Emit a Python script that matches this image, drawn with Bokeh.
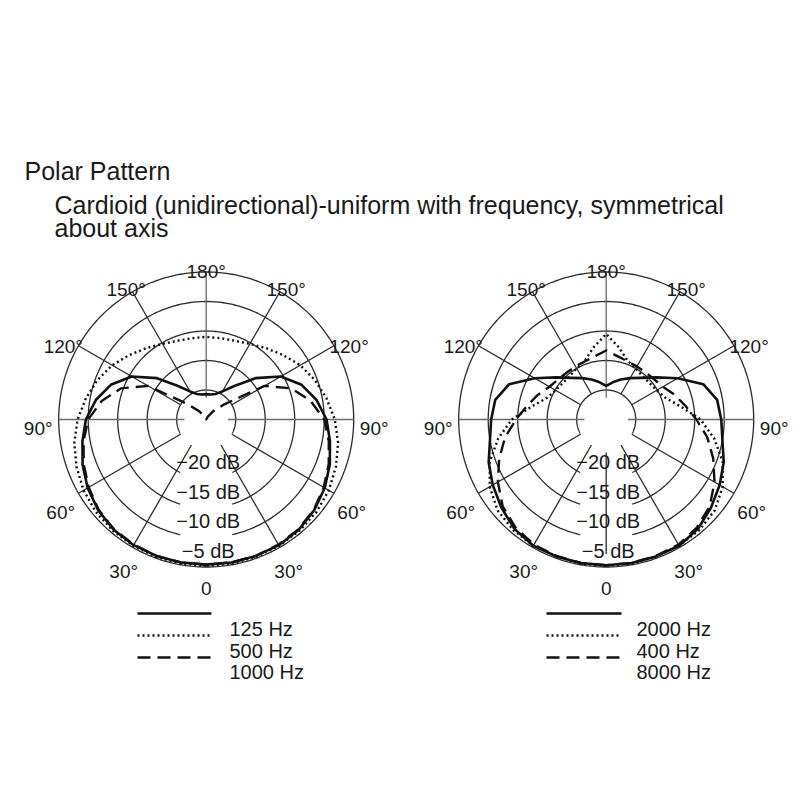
import numpy as np
from bokeh.plotting import figure
from bokeh.models import Range1d
from bokeh.embed import file_html
from bokeh.resources import INLINE
from bokeh.core.properties import value

# ---------------- data ----------------
ANGLES = [0, 10, 20, 30, 40, 50, 60, 70, 80, 90, 100, 110, 120, 130, 140, 150, 160, 170, 180]

# left chart (dB)
LEFT_125 = [-0.4, -0.4, -0.4, -0.4, -0.6, -1.1, -1.8, -2.7, -3.7, -4.6, -6.0, -7.8, -10.4, -14.1, -17.6, -19.5, -20.4, -20.7, -20.7]
LEFT_500 = [-0.2, -0.2, -0.2, -0.3, -0.4, -0.6, -1.0, -1.6, -2.3, -3.2, -4.3, -5.4, -6.6, -8.0, -9.2, -10.2, -10.8, -11.0, -11.0]
LEFT_1000 = [-0.4, -0.4, -0.4, -0.5, -0.7, -1.2, -2.0, -2.9, -3.9, -5.0, -7.0, -9.6, -13.6, -21.0, -23.2, -24.5, -25.0, -25.0, -25.0]

# right chart (dB)
RIGHT_2000 = [-0.3, -0.3, -0.3, -0.3, -0.8, -1.8, -2.8, -3.8, -5.0, -5.5, -5.9, -7.5, -11.0, -13.9, -15.8, -16.9, -17.8, -18.6, -19.3]
RIGHT_400 = [-0.2, -0.2, -0.3, -0.3, -0.5, -1.0, -2.2, -4.0, -6.4, -9.0, -12.2, -14.3, -15.1, -15.4, -15.4, -15.0, -14.4, -12.6, -10.5]
RIGHT_8000 = [-0.3, -0.3, -0.4, -0.5, -1.1, -2.1, -3.8, -5.7, -7.6, -9.7, -11.4, -12.7, -13.9, -14.4, -14.6, -14.6, -14.5, -14.1, -13.3]

RING_DB = [-5, -10, -15, -20]
RING_LABELS = ["\u22125 dB", "\u221210 dB", "\u221215 dB", "\u221220 dB"]
GRID_ANGLES = [30, 60, 90, 120, 150, 180]
TICK_ANGLES = [0, 30, 60, 90, 120, 150, 180]
TICK_LABELS = ["0", "30\u00b0", "60\u00b0", "90\u00b0", "120\u00b0", "150\u00b0", "180\u00b0"]
LEFT_NAMES = ["125 Hz", "500 Hz", "1000 Hz"]
RIGHT_NAMES = ["2000 Hz", "400 Hz", "8000 Hz"]
TITLE = "Polar Pattern"
SUBTITLE = ["Cardioid (unidirectional)-uniform with frequency, symmetrical", "about axis"]

# ---------------- layout / style ----------------
DB_MIN = -25.0
PXDB = 5.9          # pixels per dB
CY = 420.0
CENTERS = [206.7, 606.7]
FONT = value("Liberation Sans")
TXT = "#1a1a1a"
GRID = "#2a2a2a"
GRID_LIGHT = "#6a6a6a"
GAP = 26.0          # half width of the gap in the lower rings (label area)
LABEL_R = {0: 160, 30: 165, 60: 168, 90: 168, 120: 165, 150: 160, 180: 157}
LABEL_DY = 9

STYLES = [dict(line_dash="solid", line_width=2.6),
          dict(line_dash="2 3", line_width=2.4),
          dict(line_dash="13 7", line_width=2.4)]

p = figure(width=792, height=784, x_range=Range1d(1, 793), y_range=Range1d(785, 1),
           output_backend="svg", toolbar_location=None, min_border=0,
           x_axis_type=None, y_axis_type=None)
p.outline_line_color = None
p.background_fill_color = "white"
p.border_fill_color = "white"


def rad(db):
    return max(0.0, (db - DB_MIN) * PXDB)


def curve_xy(cx, values):
    th = np.radians(np.array(ANGLES, dtype=float))
    r = np.array([rad(v) for v in values])
    xl = cx - r * np.sin(th)
    yl = CY + r * np.cos(th)
    xr = cx + r[::-1] * np.sin(th[::-1])
    yr = CY + r[::-1] * np.cos(th[::-1])
    return list(np.concatenate([xl, xr])), list(np.concatenate([yl, yr]))


def draw_grid(cx, with_zero_radial):
    R0 = rad(0)
    t = np.linspace(0, 2 * np.pi, 361)
    p.line(list(cx + R0 * np.sin(t)), list(CY + R0 * np.cos(t)), line_color=GRID, line_width=1.3)
    for db in RING_DB:
        R = rad(db)
        a0 = np.arcsin(min(1.0, GAP / R))
        t = np.linspace(a0, 2 * np.pi - a0, 300)
        p.line(list(cx - R * np.sin(t)), list(CY + R * np.cos(t)), line_color=GRID, line_width=1.3)
    for a in GRID_ANGLES:
        th = np.radians(a)
        r_in = rad(-21.3) if a in (90, 180) else rad(-20)
        for side in ([-1, 1] if a != 180 else [1]):
            xs = [cx + side * r_in * np.sin(th), cx + side * R0 * np.sin(th)]
            ys = [CY + r_in * np.cos(th), CY + R0 * np.cos(th)]
            col = GRID_LIGHT if a in (90, 180) else GRID
            p.line(xs, ys, line_color=col, line_width=1.3)
    if with_zero_radial:
        p.line([cx, cx], [CY + rad(-19.4), CY + rad(-2.2)], line_color=GRID, line_width=1.3)


def draw_labels(cx):
    xs, ys, ts = [], [], []
    for a, lab in zip(TICK_ANGLES, TICK_LABELS):
        th = np.radians(a)
        R = LABEL_R[a]
        sides = [-1, 1] if a not in (0, 180) else [1]
        for s in sides:
            xs.append(cx + s * R * np.sin(th))
            ys.append(CY + R * np.cos(th) + LABEL_DY)
            ts.append(lab)
    p.text(x=xs, y=ys, text=ts, text_font=FONT, text_font_size="19px",
           text_align="center", text_baseline="middle", text_color=TXT)
    p.text(x=[cx + 2] * len(RING_DB), y=[CY + rad(d) + 13 for d in RING_DB], text=RING_LABELS,
           text_font=FONT, text_font_size="20px", text_align="center",
           text_baseline="alphabetic", text_color=TXT)


for cx, series, zero in [(CENTERS[0], [LEFT_125, LEFT_500, LEFT_1000], False),
                          (CENTERS[1], [RIGHT_2000, RIGHT_400, RIGHT_8000], True)]:
    draw_grid(cx, zero)
    for vals, st in zip(series, STYLES):
        x, y = curve_xy(cx, vals)
        p.line(x, y, line_color="#111111", line_join="round", **st)
    draw_labels(cx)

# legends
LEG_Y = [614, 636, 658]
LEG_TY = [629, 651.5, 672]
for x0, x1, tx, names in [(138, 212, 230, LEFT_NAMES), (547, 622, 637, RIGHT_NAMES)]:
    for yy, st in zip(LEG_Y, STYLES):
        p.line([x0, x1], [yy, yy], line_color="#111111", **st)
    p.text(x=[tx] * 3, y=LEG_TY, text=names, text_font=FONT, text_font_size="20px",
           text_align="left", text_baseline="alphabetic", text_color=TXT)

# titles
p.text(x=[25], y=[171.7], text=[TITLE], text_font=FONT, text_font_size="25px",
       text_align="left", text_baseline="alphabetic", text_color=TXT)
p.text(x=[55, 55], y=[205, 228.3], text=SUBTITLE, text_font=FONT, text_font_size="25px",
       text_align="left", text_baseline="alphabetic", text_color=TXT)

open("out.html", "w").write(file_html(p, INLINE))
